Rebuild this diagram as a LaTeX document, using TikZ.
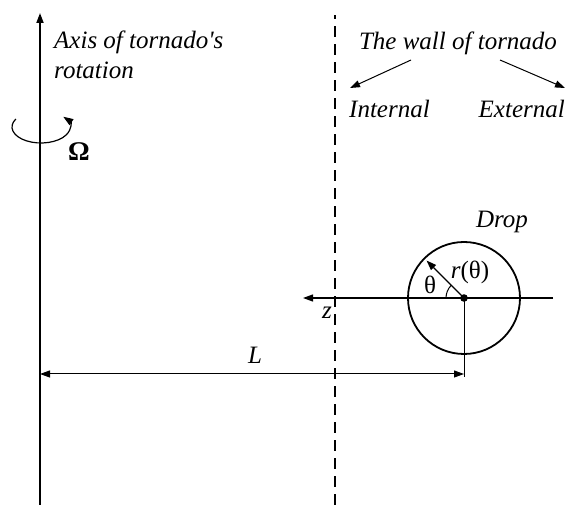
\documentclass[tikz,border=0pt]{standalone}
\usepackage{fontspec}
\setmainfont{Liberation Serif}
\usetikzlibrary{arrows.meta,positioning,calc}

\begin{document}
\begin{tikzpicture}[x=1pt, y=1pt,
      lbl/.style={font=\fontsize{25}{30}\selectfont\itshape, inner sep=0pt},
      txt/.style={font=\fontsize{25}{30}\selectfont, inner sep=0pt},
      thick line/.style={line width=1.8pt},
      wall/.style={line width=1.8pt, dash pattern=on 11pt off 7pt},
      >={Triangle[length=10pt,width=7pt]}]
    \useasboundingbox (0,0) rectangle (571,506);
    % axis of tornado's rotation
    \coordinate (ab) at (40,1);
    \coordinate (at) at (40,493);
    \draw[thick line, ->] (ab) -- (at);
    \node[lbl, anchor=north west, align=left] (axis) at (54,475) {Axis of tornado\textquotesingle s\\rotation};
    \coordinate (rc) at (41,379);
    \draw[line width=1.2pt, ->] (rc) ++(150:29 and 16)
      arc[start angle=150, end angle=400, x radius=29, y radius=16];
    \node[font=\fontsize{27}{27}\selectfont\bfseries, inner sep=0pt] (om) at (79,354) {Ω};
    % the wall
    \coordinate (wb) at (335,1);
    \coordinate (wtop) at (335,491);
    \draw[wall] (wb) -- (wtop);
    \node[lbl, anchor=base] (wt) at (458,456) {The wall of tornado};
    \node[lbl, anchor=base west] (int) at (349,388) {Internal};
    \node[lbl, anchor=base east] (ext) at (565,388) {External};
    \draw[line width=1pt, ->] ($(wt.base)+(-47,-10)$) -- ($(int.base west)+(1,30)$);
    \draw[line width=1pt, ->] ($(wt.base)+(42,-10)$) -- ($(ext.base east)+(0,30)$);
    % drop
    \node[circle, draw, thick line, minimum size=112pt, inner sep=0pt] (drop) at (464,208) {};
    \fill (drop.center) circle (3.8);
    \node[lbl] (dl) at (502,284) {Drop};
    \coordinate (zr) at (553,208);
    \coordinate (zl) at (303,208);
    \draw[line width=1.2pt, ->] (zr) -- (zl);
    \node[lbl] (z) at (327,193) {z};
    \draw[line width=1.2pt, ->] (drop.center) -- ($(drop.center)+(135:53)$);
    \draw[line width=1pt] (drop.center) ++(180:18) arc[start angle=180, end angle=135, radius=18];
    \node[txt] (rt) at (470,234) {\textit{r}(θ)};
    \node[txt] (th) at (430,221) {θ};
    % distance L
    \coordinate (lb) at (464,129);
    \draw[line width=1pt] (drop.center) -- (lb);
    \coordinate (la) at (40,132);
    \draw[line width=1pt, <->] (la) -- (la -| drop.center);
    \node[lbl] (L) at (255,151) {L};
\end{tikzpicture}
\end{document}
